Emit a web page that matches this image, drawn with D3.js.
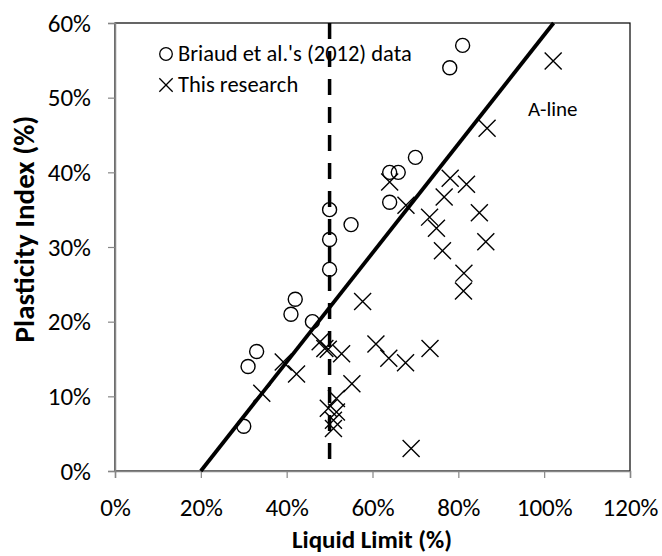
<!DOCTYPE html>
<html>
<head>
<meta charset="utf-8">
<script src="https://cdn.jsdelivr.net/npm/d3@7"></script>
<style>
  body { margin: 0; background: #fff; }
  text { font-family: Carlito, Calibri, "Liberation Sans", sans-serif; }
</style>
</head>
<body>
<div id="chart"></div>
<script>
// Chart size and plot area
const width = 662;
const height = 556;
const margin = {top: 23, right: 32, bottom: 85, left: 115};

// Briaud et al.'s (2012) data: liquid limit (%), plasticity index (%)
const briaudLL = [30, 31, 33, 41, 42, 46, 50, 50, 50, 55, 64, 64, 66, 70, 78, 81];
const briaudPI = [6, 14, 16, 21, 23, 20, 27, 31, 35, 33, 36, 40, 40, 42, 54, 57];

// This research
const researchLL = [34.2, 39.2, 42.3, 47.8, 48.9, 49.7, 52.8, 55.2, 57.7, 51.6, 49.7, 51.6, 50.9, 50.9,
  60.8, 63.8, 67.7, 73.4, 69, 76.3, 86.4, 81.3, 81.2, 86.7, 78.1, 81.9, 64.0, 76.7, 84.9, 73.3, 74.9, 67.8, 102.1];
const researchPI = [10.4, 14.6, 13, 17.3, 16.4, 16.3, 15.7, 11.7, 22.7, 9.7, 8.4, 7.9, 6.8, 5.7,
  17, 15.1, 14.5, 16.4, 3, 29.5, 30.7, 26.5, 24.1, 45.9, 39.2, 38.4, 38.7, 36.7, 34.6, 34, 32.5, 35.6, 54.9];

// A-line: PI = 0.73 (LL - 20), drawn from PI = 0 up to PI = 60
const aLineLL = [20, 20 + 60 / 0.73];
const aLinePI = [0, 60];

// U boundary at LL = 50
const boundaryLL = 50;

const xTicks = [0, 20, 40, 60, 80, 100, 120];
const yTicks = [0, 10, 20, 30, 40, 50, 60];

const svg = d3.select("#chart").append("svg")
    .attr("width", width)
    .attr("height", height);

const x = d3.scaleLinear().domain([0, 120]).range([margin.left, width - margin.right]);
const y = d3.scaleLinear().domain([0, 60]).range([height - margin.bottom, margin.top]);

// plot area border (top and right)
svg.append("rect")
    .attr("x", x(0))
    .attr("y", y(60))
    .attr("width", x(120) - x(0))
    .attr("height", y(0) - y(60))
    .attr("fill", "none")
    .attr("stroke", "#000")
    .attr("stroke-width", 1.2);

// axes
const xAxis = svg.append("g")
    .attr("transform", `translate(0,${y(0)})`)
    .call(d3.axisBottom(x).tickValues(xTicks).tickSize(7).tickPadding(20).tickFormat(d => d + "%"));
const yAxis = svg.append("g")
    .attr("transform", `translate(${x(0)},0)`)
    .call(d3.axisLeft(y).tickValues(yTicks).tickSize(7).tickPadding(17).tickFormat(d => d + "%"));

[xAxis, yAxis].forEach(ax => {
    ax.select(".domain").attr("stroke", "#868686").attr("stroke-width", 1.5);
    ax.selectAll(".tick line").attr("stroke", "#868686").attr("stroke-width", 1.2);
    ax.selectAll(".tick text").attr("fill", "#000").style("font-size", "25px");
});

// dashed line at LL = 50
svg.append("line")
    .attr("x1", x(boundaryLL)).attr("x2", x(boundaryLL))
    .attr("y1", y(60)).attr("y2", y(0))
    .attr("stroke", "#000")
    .attr("stroke-width", 3.5)
    .attr("stroke-dasharray", "16,12");

// A-line
svg.append("line")
    .attr("x1", x(aLineLL[0])).attr("y1", y(aLinePI[0]))
    .attr("x2", x(aLineLL[1])).attr("y2", y(aLinePI[1]))
    .attr("stroke", "#000")
    .attr("stroke-width", 3.8);

svg.append("text")
    .attr("x", 528)
    .attr("y", 116)
    .style("font-size", "21px")
    .text("A-line");

// Briaud circles
svg.append("g").selectAll("circle")
    .data(d3.zip(briaudLL, briaudPI))
    .join("circle")
    .attr("cx", d => x(d[0]))
    .attr("cy", d => y(d[1]))
    .attr("r", 7)
    .attr("fill", "none")
    .attr("stroke", "#000")
    .attr("stroke-width", 1.4);

// This research crosses
const cross = d3.symbol().type(d3.symbolX).size(190);
svg.append("g").selectAll("path")
    .data(d3.zip(researchLL, researchPI))
    .join("path")
    .attr("transform", d => `translate(${x(d[0])},${y(d[1])})`)
    .attr("d", cross)
    .attr("fill", "none")
    .attr("stroke", "#000")
    .attr("stroke-width", 1.4);

// legend
const legend = svg.append("g");
legend.append("circle")
    .attr("cx", 166).attr("cy", 54).attr("r", 6.3)
    .attr("fill", "none").attr("stroke", "#000").attr("stroke-width", 1.3);
legend.append("text")
    .attr("x", 178).attr("y", 61)
    .style("font-size", "22.5px")
    .text("Briaud et al.'s (2012) data");
legend.append("path")
    .attr("transform", "translate(166,85)")
    .attr("d", d3.symbol().type(d3.symbolX).size(118))
    .attr("fill", "none").attr("stroke", "#000").attr("stroke-width", 1.3);
legend.append("text")
    .attr("x", 178).attr("y", 92)
    .style("font-size", "22.5px")
    .text("This research");

// axis titles
svg.append("text")
    .attr("x", 372)
    .attr("y", 548)
    .attr("text-anchor", "middle")
    .style("font-size", "25px")
    .style("font-weight", "bold")
    .text("Liquid Limit (%)");

svg.append("text")
    .attr("transform", "translate(34,229) rotate(-90)")
    .attr("text-anchor", "middle")
    .style("font-size", "29px")
    .style("font-weight", "bold")
    .text("Plasticity Index (%)");
</script>
</body>
</html>
